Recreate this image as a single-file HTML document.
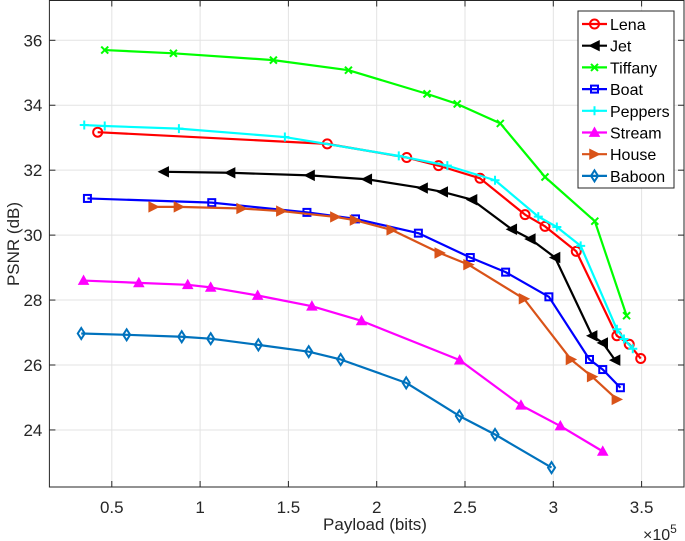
<!DOCTYPE html>
<html><head><meta charset="utf-8"><style>
body{margin:0;background:#fff;}
svg{display:block;font-family:"Liberation Sans",Arial,sans-serif;}
</style></head><body>
<svg id="chart" width="685" height="541"></svg>
<script>
const xTicks=[0.5,1,1.5,2,2.5,3,3.5];
const xTickLabels=["0.5","1","1.5","2","2.5","3","3.5"];
const yTicks=[24,26,28,30,32,34,36];
const yTickLabels=["24","26","28","30","32","34","36"];
const seriesNames=["Lena","Jet","Tiffany","Boat","Peppers","Stream","House","Baboon"];
const lenaX=[0.42,1.72,2.17,2.35,2.585,2.84,2.953,3.13,3.36,3.43,3.495];
const lenaY=[33.17,32.81,32.39,32.14,31.75,30.63,30.27,29.5,26.9,26.64,26.2];
const jetX=[0.794,1.17,1.62,1.944,2.26,2.374,2.54,2.765,2.87,3.01,3.22,3.28,3.35];
const jetY=[31.95,31.92,31.84,31.72,31.45,31.33,31.09,30.18,29.88,29.31,26.9,26.68,26.15];
const tiffanyX=[0.46,0.849,1.415,1.84,2.285,2.456,2.70,2.953,3.235,3.415];
const tiffanyY=[35.70,35.60,35.39,35.08,34.35,34.04,33.44,31.79,30.43,27.52];
const boatX=[0.362,1.066,1.605,1.88,2.236,2.53,2.73,2.975,3.205,3.28,3.38];
const boatY=[31.13,31.0,30.70,30.5,30.06,29.31,28.86,28.1,26.17,25.86,25.3];
const peppersX=[0.344,0.46,0.88,1.48,2.125,2.40,2.67,2.915,3.02,3.155,3.36,3.40,3.45];
const peppersY=[33.39,33.36,33.28,33.02,32.44,32.14,31.69,30.57,30.25,29.67,27.1,26.8,26.5];
const streamX=[0.34,0.653,0.93,1.06,1.326,1.633,1.914,2.47,2.817,3.04,3.28];
const streamY=[28.6,28.53,28.47,28.39,28.14,27.81,27.36,26.15,24.76,24.12,23.34];
const houseX=[0.737,0.88,1.235,1.46,1.766,1.877,2.085,2.357,2.52,2.834,3.10,3.22,3.36];
const houseY=[30.87,30.87,30.82,30.74,30.56,30.46,30.16,29.45,29.09,28.04,26.17,25.64,24.94];
const baboonX=[0.327,0.584,0.896,1.06,1.33,1.615,1.796,2.167,2.468,2.67,2.99];
const baboonY=[26.97,26.93,26.87,26.81,26.62,26.41,26.17,25.45,24.43,23.86,22.84];

const NS="http://www.w3.org/2000/svg";
const svg=document.getElementById('chart');
const L=49.4,R=684,T=0.5,B=487;
function sx(v){return 111.8+(v-0.5)*176.6;}
function sy(v){return 40.3+(36-v)*32.47;}
function mk(tag,attrs,parent){const e=document.createElementNS(NS,tag);for(const k in attrs)e.setAttribute(k,attrs[k]);(parent||svg).appendChild(e);return e;}

const grid=mk('g',{});


xTicks.forEach((t,i)=>{
  const x=sx(t);
  mk('line',{x1:x,x2:x,y1:T,y2:B,stroke:'#e3e3e3','stroke-width':1},grid);
  mk('line',{x1:x,x2:x,y1:B,y2:B-6,stroke:'#262626','stroke-width':1},grid);
  mk('line',{x1:x,x2:x,y1:T,y2:T+6,stroke:'#262626','stroke-width':1},grid);
  const tx=mk('text',{x:x,y:B+26,'text-anchor':'middle','font-size':17,fill:'#262626'});
  tx.textContent=xTickLabels[i];
  
  
});
yTicks.forEach((t,i)=>{
  const y=sy(t);
  mk('line',{x1:L,x2:R,y1:y,y2:y,stroke:'#e3e3e3','stroke-width':1},grid);
  mk('line',{x1:L,x2:L+6,y1:y,y2:y,stroke:'#262626','stroke-width':1},grid);
  mk('line',{x1:R,x2:R-6,y1:y,y2:y,stroke:'#262626','stroke-width':1},grid);
  const tx=mk('text',{x:L-7,y:y+6,'text-anchor':'end','font-size':17,fill:'#262626'});
  tx.textContent=yTickLabels[i];
  
  
});
const frame=mk('rect',{x:L,y:T,width:R-L,height:B-T,fill:'none',stroke:'#262626','stroke-width':1});



function marker(g,type,x,y,c){
  const s=4.5;
  if(type==='o')mk('circle',{cx:x,cy:y,r:s,fill:'none',stroke:c,'stroke-width':2},g);
  else if(type==='<')mk('polygon',{points:`${x-s},${y} ${x+s},${y-s} ${x+s},${y+s}`,fill:c,stroke:c,'stroke-width':1.5},g);
  else if(type==='>')mk('polygon',{points:`${x+s},${y} ${x-s},${y-s} ${x-s},${y+s}`,fill:c,stroke:c,'stroke-width':1.5},g);
  else if(type==='^')mk('polygon',{points:`${x},${y-s} ${x-s},${y+s*0.8} ${x+s},${y+s*0.8}`,fill:c,stroke:c,'stroke-width':1.5},g);
  else if(type==='s')mk('rect',{x:x-s+1,y:y-s+1,width:2*s-2,height:2*s-2,fill:'none',stroke:c,'stroke-width':2},g);
  else if(type==='d')mk('polygon',{points:`${x},${y-s-1} ${x+s-1},${y} ${x},${y+s+1} ${x-s+1},${y}`,fill:'none',stroke:c,'stroke-width':2},g);
  else if(type==='x'){mk('path',{d:`M${x-s+1},${y-s+1}L${x+s-1},${y+s-1}M${x-s+1},${y+s-1}L${x+s-1},${y-s+1}`,stroke:c,'stroke-width':2},g);}
  else if(type==='+'){mk('path',{d:`M${x-s},${y}L${x+s},${y}M${x},${y-s}L${x},${y+s}`,stroke:c,'stroke-width':2},g);}
}
const series=[
 [lenaX,lenaY,'#ff0000','o'],[jetX,jetY,'#000000','<'],[tiffanyX,tiffanyY,'#00ff00','x'],
 [boatX,boatY,'#0000ff','s'],[peppersX,peppersY,'#00ffff','+'],[streamX,streamY,'#ff00ff','^'],
 [houseX,houseY,'#d95319','>'],[baboonX,baboonY,'#0072bd','d']];
series.forEach((s,i)=>{
  const g=mk('g',{});
  
  
  const pts=s[0].map((v,j)=>sx(v)+','+sy(s[1][j])).join(' ');
  mk('polyline',{points:pts,fill:'none',stroke:s[2],'stroke-width':2.2,'stroke-linejoin':'round'},g);
  s[0].forEach((v,j)=>marker(g,s[3],sx(v),sy(s[1][j]),s[2]));
});

const lg=mk('g',{});


mk('rect',{x:578,y:11,width:96,height:177,fill:'#fff',stroke:'#262626','stroke-width':1},lg);
series.forEach((s,i)=>{
  const y=24+i*21.7;
  const e=mk('g',{},lg);
  
  
  mk('line',{x1:582,x2:607,y1:y,y2:y,stroke:s[2],'stroke-width':2.2},e);
  marker(e,s[3],594.5,y,s[2]);
  const t=mk('text',{x:610,y:y+6,'font-size':16,fill:'#000'},e);
  t.textContent=seriesNames[i];
});

const xl=mk('text',{x:375,y:530,'text-anchor':'middle','font-size':17,fill:'#262626'});
xl.textContent='Payload (bits)';


const yl=mk('text',{x:0,y:0,'text-anchor':'middle','font-size':17,fill:'#262626',transform:'translate(19,244) rotate(-90)'});
yl.textContent='PSNR (dB)';


const ex=mk('text',{x:643,y:540,'font-size':16,fill:'#262626'});
ex.innerHTML='×10<tspan dy="-7" font-size="12">5</tspan>';


</script>
</body></html>
